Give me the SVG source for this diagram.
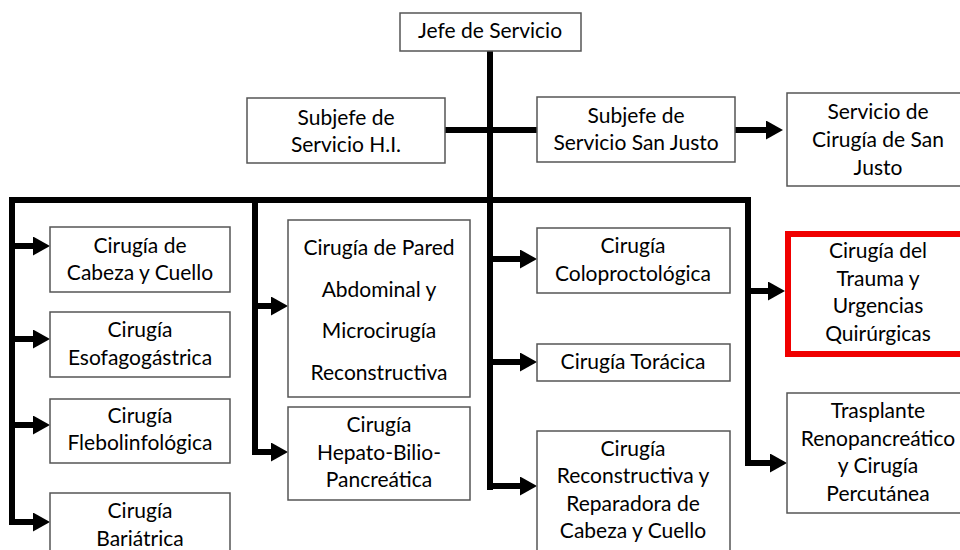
<svg xmlns="http://www.w3.org/2000/svg" width="960" height="550" viewBox="0 0 960 550">
<defs>
<style>
.box{fill:#fff;stroke:#555;stroke-width:1.5}
.red{fill:#fff;stroke:#f00000;stroke-width:6}
.t{font-family:Lato,"Open Sans","Liberation Sans",sans-serif;font-size:21px;fill:#000;text-anchor:middle}
.ln{fill:none;stroke:#000;stroke-width:6;stroke-linejoin:miter}
.ar{fill:none;stroke:#000;stroke-width:6;marker-end:url(#ah)}
</style>
<marker id="ah" markerUnits="userSpaceOnUse" markerWidth="18" markerHeight="19" refX="8" refY="9.5" orient="auto">
<path d="M0,0 L17,9.5 L0,19 z" fill="#000"/>
</marker>
</defs>
<rect width="960" height="550" fill="#fff"/>
<g id="connectors">
<path class="ln" d="M490,51 V490"/>
<path class="ln" d="M12,525 V200 H748 V466"/>
<path class="ln" d="M255,200 V455"/>
<path class="ln" d="M445,130 H537"/>
<path class="ar" d="M735,130 H774"/>
<path class="ar" d="M9,246 H41"/>
<path class="ar" d="M9,339 H41"/>
<path class="ar" d="M9,425 H41"/>
<path class="ar" d="M9,522 H41"/>
<path class="ar" d="M252,306 H279"/>
<path class="ar" d="M252,452 H279"/>
<path class="ar" d="M490,259 H528"/>
<path class="ar" d="M490,362 H528"/>
<path class="ar" d="M487,486 H528"/>
<path class="ar" d="M748,291 H776"/>
<path class="ar" d="M745,463 H778"/>
</g>
<g id="jefe"><rect class="box" x="400" y="13" width="181" height="38"/><text class="t" x="490" y="38">Jefe de Servicio</text></g>
<g id="subjefe-hi"><rect class="box" x="247" y="98" width="198" height="65"/><text class="t" x="346" y="125">Subjefe de</text><text class="t" x="346" y="152">Servicio H.I.</text></g>
<g id="subjefe-sj"><rect class="box" x="537" y="97" width="198" height="65"/><text class="t" x="636" y="123">Subjefe de</text><text class="t" x="636" y="150">Servicio San Justo</text></g>
<g id="servicio-sj"><rect class="box" x="787" y="93" width="180" height="93"/><text class="t" x="878" y="119">Servicio de</text><text class="t" x="878" y="147">Cirugía de San</text><text class="t" x="878" y="175">Justo</text></g>
<g id="cabeza"><rect class="box" x="50" y="227" width="180" height="65"/><text class="t" x="140" y="253">Cirugía de</text><text class="t" x="140" y="280">Cabeza y Cuello</text></g>
<g id="esofago"><rect class="box" x="50" y="312" width="180" height="65"/><text class="t" x="140" y="337">Cirugía</text><text class="t" x="140" y="365">Esofagogástrica</text></g>
<g id="flebo"><rect class="box" x="50" y="399" width="180" height="64"/><text class="t" x="140" y="423">Cirugía</text><text class="t" x="140" y="450">Flebolinfológica</text></g>
<g id="bariatrica"><rect class="box" x="50" y="493" width="180" height="70"/><text class="t" x="140" y="518">Cirugía</text><text class="t" x="140" y="546">Bariátrica</text></g>
<g id="pared"><rect class="box" x="288" y="220" width="182" height="177"/><text class="t" x="379" y="255">Cirugía de Pared</text><text class="t" x="379" y="297">Abdominal y</text><text class="t" x="379" y="338">Microcirugía</text><text class="t" x="379" y="380">Reconstructiva</text></g>
<g id="hepato"><rect class="box" x="288" y="407" width="182" height="93"/><text class="t" x="379" y="432">Cirugía</text><text class="t" x="379" y="460">Hepato-Bilio-</text><text class="t" x="379" y="487">Pancreática</text></g>
<g id="colo"><rect class="box" x="537" y="228" width="193" height="65"/><text class="t" x="633" y="253">Cirugía</text><text class="t" x="633" y="281">Coloproctológica</text></g>
<g id="toracica"><rect class="box" x="537" y="344" width="193" height="37"/><text class="t" x="633" y="369">Cirugía Torácica</text></g>
<g id="reconstructiva"><rect class="box" x="537" y="431" width="193" height="130"/><text class="t" x="633" y="456">Cirugía</text><text class="t" x="633" y="483">Reconstructiva y</text><text class="t" x="633" y="511">Reparadora de</text><text class="t" x="633" y="538">Cabeza y Cuello</text></g>
<g id="trauma"><rect class="red" x="788" y="234" width="180" height="120"/><text class="t" x="878" y="258">Cirugía del</text><text class="t" x="878" y="286">Trauma y</text><text class="t" x="878" y="313">Urgencias</text><text class="t" x="878" y="341">Quirúrgicas</text></g>
<g id="trasplante"><rect class="box" x="787" y="393" width="180" height="120"/><text class="t" x="878" y="418">Trasplante</text><text class="t" x="878" y="446">Renopancreático</text><text class="t" x="878" y="473">y Cirugía</text><text class="t" x="878" y="501">Percutánea</text></g>
</svg>
